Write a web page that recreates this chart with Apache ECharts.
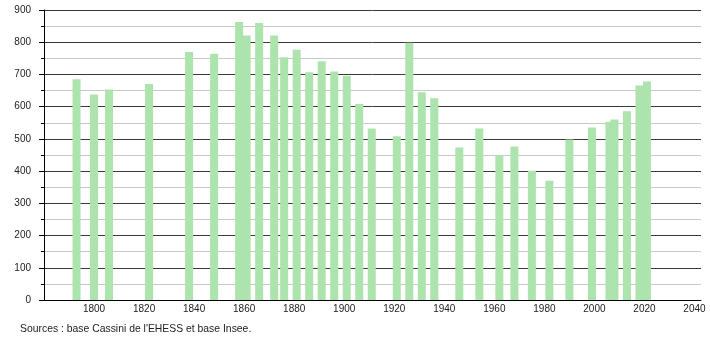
<!DOCTYPE html>
<html>
<head>
<meta charset="utf-8">
<script src="https://cdn.jsdelivr.net/npm/echarts@6/dist/echarts.min.js"></script>
<style>
html,body{margin:0;padding:0;background:#fff;}
#c{width:710px;height:340px;}
</style>
</head>
<body>
<div id="c"></div>
<script>
const years = [1793, 1800, 1806, 1822, 1838, 1848, 1858, 1861, 1866, 1872, 1876, 1881, 1886, 1891, 1896, 1901, 1906, 1911, 1921, 1926, 1931, 1936, 1946, 1954, 1962, 1968, 1975, 1982, 1990, 1999, 2006, 2008, 2013, 2018, 2021];
const population = [685, 638, 653, 670, 770, 764, 863, 821, 860, 821, 753, 777, 707, 741, 709, 696, 608, 532, 508, 798, 645, 626, 473, 532, 449, 476, 401, 370, 498, 535, 553, 560, 586, 666, 678];
const yTicks = [0, 100, 200, 300, 400, 500, 600, 700, 800, 900];
const xTicks = [1800, 1820, 1840, 1860, 1880, 1900, 1920, 1940, 1960, 1980, 2000, 2020, 2040];
const sourceText = "Sources : base Cassini de l'EHESS et base Insee.";

const chart = echarts.init(document.getElementById('c'), null, {renderer: 'canvas'});
const font = 'Liberation Sans, Arial, sans-serif';
chart.setOption({
  animation: false,
  backgroundColor: '#ffffff',
  grid: {left: 44, top: 10, width: 657, height: 290, containLabel: false},
  xAxis: {
    type: 'value',
    min: 1780,
    max: 2042.6,
    interval: 20,
    axisLine: {show: true, lineStyle: {color: '#000', width: 1}},
    axisTick: {show: false},
    splitLine: {show: false},
    axisLabel: {
      margin: 4,
      color: '#222',
      fontFamily: font,
      fontSize: 10,
      formatter: function (v) { return xTicks.indexOf(v) >= 0 ? String(v) : ''; }
    }
  },
  yAxis: {
    type: 'value',
    min: yTicks[0],
    max: yTicks[yTicks.length - 1],
    interval: 100,
    axisLine: {show: true, lineStyle: {color: '#000', width: 1}},
    axisTick: {show: true, length: 5, lineStyle: {color: '#000'}},
    minorTick: {show: true, splitNumber: 2, length: 3, lineStyle: {color: '#000'}},
    splitLine: {show: true, lineStyle: {color: '#3a3a3a', width: 1}},
    minorSplitLine: {show: true, lineStyle: {color: '#c8c8c8', width: 1}},
    axisLabel: {margin: 13, color: '#222', fontFamily: font, fontSize: 10}
  },
  series: [{
    type: 'bar',
    barWidth: 8,
    itemStyle: {color: '#ade3ad'},
    data: years.map((y, i) => [y, population[i]])
  }],
  graphic: [{
    type: 'text',
    left: 20,
    top: 324,
    style: {text: sourceText, fill: '#222', font: '10.4px ' + font}
  }]
});
</script>
</body>
</html>
